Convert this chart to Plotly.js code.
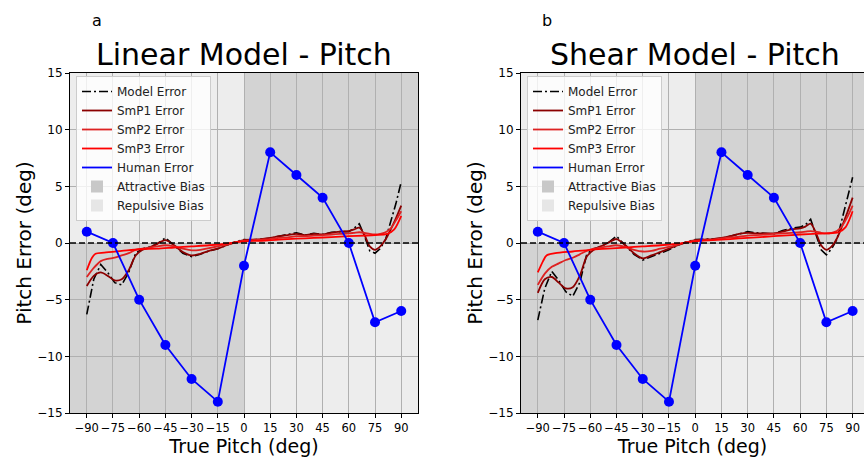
<!DOCTYPE html>
<html>
<head>
<meta charset="utf-8">
<script src="https://cdn.plot.ly/plotly-3.0.1.min.js"></script>
<style>html,body{margin:0;padding:0;background:#fff}#chart{width:864px;height:457px}</style>
</head>
<body>
<div id="chart"></div>
<script>
// ---- data ----
const curveX = [-90,-86,-82,-78,-74,-70,-66,-62,-58,-54,-50,-45,-40,-35,-30,-25,-20,-15,-10,-5,0,5,10,15,20,25,30,35,40,45,50,55,60,63,66,69,72,75,78,81,84,87,90];

const linModel = [-6.3,-3.2,-1.9,-2.6,-3.5,-3.7,-2.6,-0.9,-0.5,-0.35,-0.1,0.45,-0.2,-0.9,-1.2,-1.0,-0.7,-0.5,-0.2,0.1,0.3,0.25,0.35,0.4,0.6,0.75,0.9,0.7,0.85,0.75,0.95,1.0,1.0,1.3,1.7,0.6,-0.7,-0.9,-0.5,0.3,1.8,3.5,5.4];
const linSmP1 = [-3.8,-2.9,-2.6,-2.9,-3.3,-3.2,-2.4,-1.1,-0.6,-0.4,-0.1,0.25,-0.2,-0.8,-1.1,-0.95,-0.7,-0.5,-0.2,0.05,0.25,0.3,0.35,0.45,0.6,0.7,0.8,0.7,0.8,0.75,0.9,1.0,1.05,1.2,1.35,0.7,-0.3,-0.6,-0.3,0.3,1.2,2.2,3.3];
const linSmP2 = [-3.0,-2.2,-1.6,-1.4,-1.3,-1.1,-0.9,-0.6,-0.5,-0.4,-0.3,-0.2,-0.3,-0.5,-0.65,-0.6,-0.45,-0.3,-0.15,0.05,0.2,0.25,0.3,0.35,0.45,0.5,0.6,0.6,0.65,0.7,0.75,0.8,0.85,0.9,0.95,0.9,0.8,0.75,0.8,0.95,1.3,2.0,2.8];
const smp3X = [-90,-87,-85,-80,-70,-60,-50,-40,-30,-20,-10,0,10,20,30,40,50,60,70,75,82,86,90];
const linSmP3 = [-2.4,-1.3,-0.95,-0.85,-0.7,-0.55,-0.5,-0.4,-0.3,-0.2,-0.05,0.15,0.2,0.3,0.38,0.45,0.52,0.6,0.66,0.7,0.8,1.2,2.4];

const shModel = [-6.8,-4.0,-2.5,-3.3,-4.3,-4.7,-3.5,-1.0,-0.5,-0.3,0.0,0.6,-0.2,-1.0,-1.5,-1.2,-0.9,-0.6,-0.2,0.1,0.3,0.3,0.35,0.4,0.6,0.85,1.0,0.9,0.85,0.8,1.1,1.3,1.4,1.6,2.1,0.8,-0.6,-1.05,-0.5,0.3,2.2,4.0,5.8];
const shSmP1 = [-4.4,-3.2,-3.0,-3.5,-4.0,-3.9,-2.9,-1.2,-0.6,-0.3,0.0,0.35,-0.2,-0.9,-1.35,-1.1,-0.8,-0.5,-0.2,0.05,0.25,0.3,0.35,0.45,0.6,0.8,0.9,0.85,0.85,0.85,1.0,1.2,1.3,1.45,1.7,0.9,-0.2,-0.6,-0.3,0.4,1.5,2.7,4.0];
const shSmP2 = [-3.7,-2.7,-2.1,-1.8,-1.5,-1.3,-1.0,-0.7,-0.5,-0.4,-0.3,-0.2,-0.35,-0.6,-0.75,-0.7,-0.5,-0.35,-0.15,0.05,0.2,0.25,0.3,0.4,0.5,0.55,0.65,0.7,0.75,0.8,0.85,0.9,0.95,1.0,1.05,1.0,0.9,0.85,0.9,1.05,1.5,2.3,3.3];
const shSmP3 = [-2.6,-1.6,-1.1,-0.9,-0.75,-0.6,-0.5,-0.4,-0.3,-0.2,-0.05,0.15,0.25,0.35,0.45,0.55,0.65,0.75,0.82,0.85,0.95,1.4,2.8];

const humanX = [-90,-75,-60,-45,-30,-15,0,15,30,45,60,75,90];
const humanLin = [1,0,-5,-9,-12,-14,-2,8,6,4,0,-7,-6];
const humanShear = [1,0,-5,-9,-12,-14,-2,8,6,4,0,-7,-6];

const xTicks = [-90,-75,-60,-45,-30,-15,0,15,30,45,60,75,90];
const yTicks = [-15,-10,-5,0,5,10,15];
const titles = ['Linear Model - Pitch','Shear Model - Pitch'];
const panelLabels = ['a','b'];
const seriesNames = ['Model Error','SmP1 Error','SmP2 Error','SmP3 Error','Human Error','Attractive Bias','Repulsive Bias'];

// ---- styles ----
const FONT = 'DejaVu Sans';
const cModel = '#000000', cS1 = '#8b0000', cS2 = '#dd2222', cS3 = '#ff0000', cHuman = '#0000ff';
const cAttr = '#d3d3d3', cRep = '#ededed';
const biasSplit = 0;

function panel(xa, ya, legendId, model, s1, s2, s3, human) {
  const common = {xaxis: xa, yaxis: ya, legend: legendId, mode: 'lines', hoverinfo: 'skip'};
  return [
    Object.assign({}, common, {x: curveX, y: model, name: seriesNames[0], line: {color: cModel, width: 1.6, dash: '9px,3px,2px,3px'}}),
    Object.assign({}, common, {x: curveX, y: s1, name: seriesNames[1], line: {color: cS1, width: 1.8, shape: 'spline', smoothing: 0.8}}),
    Object.assign({}, common, {x: curveX, y: s2, name: seriesNames[2], line: {color: cS2, width: 1.8, shape: 'spline', smoothing: 0.8}}),
    Object.assign({}, common, {x: smp3X, y: s3, name: seriesNames[3], line: {color: cS3, width: 1.8, shape: 'spline', smoothing: 0.8}}),
    Object.assign({}, common, {x: [null], y: [null], name: seriesNames[4], line: {color: cHuman, width: 1.8}}),
    Object.assign({}, common, {x: humanX, y: human, name: seriesNames[4], mode: 'lines+markers', showlegend: false, line: {color: cHuman, width: 1.8}, marker: {color: cHuman, size: 10}}),
    {type: 'bar', xaxis: xa, yaxis: ya, legend: legendId, x: [null], y: [null], name: seriesNames[5], marker: {color: '#c8c8c8', line: {width: 0}}, hoverinfo: 'skip'},
    {type: 'bar', xaxis: xa, yaxis: ya, legend: legendId, x: [null], y: [null], name: seriesNames[6], marker: {color: '#e6e6e6', line: {width: 0}}, hoverinfo: 'skip'}
  ];
}

const data = [].concat(
  panel('x', 'y', 'legend', linModel, linSmP1, linSmP2, linSmP3, humanLin),
  panel('x2', 'y2', 'legend2', shModel, shSmP1, shSmP2, shSmP3, humanShear)
);

const W = 864, H = 457;
const dom1 = [70 / W, 418 / W], dom2 = [521 / W, 1];
const ydom = [1 - 413 / H, 1 - 73 / H];

function xax(domain, range, anchor) {
  return {domain: domain, range: range, anchor: anchor, tickvals: xTicks, ticks: 'outside', ticklen: 4, tickcolor: '#000', tickangle: 0,
    tickfont: {family: FONT, size: 11.5, color: '#000'}, showgrid: true, gridcolor: '#b0b0b0', gridwidth: 1,
    showline: true, linecolor: '#000', linewidth: 1, mirror: true, zeroline: false,
    title: {text: 'True Pitch (deg)', font: {family: FONT, size: 19, color: '#000'}, standoff: 9}};
}
function yax(anchor, mirror) {
  return {domain: ydom, range: [-15, 15], anchor: anchor, tickvals: yTicks, ticks: 'outside', ticklen: 4, tickcolor: '#000',
    tickfont: {family: FONT, size: 12, color: '#000'}, showgrid: true, gridcolor: '#b0b0b0', gridwidth: 1,
    showline: true, linecolor: '#000', linewidth: 1, mirror: mirror, zeroline: false,
    title: {text: 'Pitch Error (deg)', font: {family: FONT, size: 20, color: '#000'}, standoff: 0}};
}

function quadShapes(xr, yr) {
  const big = 1000;
  const r = (x0, x1, y0, y1, c) => ({type: 'rect', xref: xr, yref: yr, x0: x0, x1: x1, y0: y0, y1: y1, fillcolor: c, line: {width: 0}, layer: 'below'});
  return [
    r(-big, biasSplit, biasSplit, big, cRep),
    r(biasSplit, big, biasSplit, big, cAttr),
    r(-big, biasSplit, -big, biasSplit, cAttr),
    r(biasSplit, big, -big, biasSplit, cRep),
    {type: 'line', xref: xr + ' domain', yref: yr, x0: 0, x1: 1, y0: biasSplit, y1: biasSplit, line: {color: '#000', width: 1.6, dash: '6px,3px'}, layer: 'above'}
  ];
}

function legendCfg(xpx) {
  return {x: xpx / W, y: 1 - 76 / H, xanchor: 'left', yanchor: 'top', bgcolor: 'rgba(255,255,255,0.8)', bordercolor: '#cccccc', borderwidth: 1,
    font: {family: FONT, size: 12, color: '#222'}, itemwidth: 30, tracegroupgap: 0, traceorder: 'normal'};
}

const layout = {
  width: W, height: H, margin: {l: 0, r: 0, t: 0, b: 0}, paper_bgcolor: '#fff', plot_bgcolor: 'rgba(0,0,0,0)',
  font: {family: FONT},
  xaxis: xax(dom1, [-99.6, 99.6], 'y'),
  yaxis: yax('x', true),
  xaxis2: xax(dom2, [-99.6, 96.5], 'y2'),
  yaxis2: yax('x2', false),
  legend: legendCfg(76),
  legend2: legendCfg(527),
  shapes: [].concat(quadShapes('x', 'y'), quadShapes('x2', 'y2')),
  annotations: [
    {text: titles[0], xref: 'paper', yref: 'paper', x: 244 / W, y: 1 - 55 / H, xanchor: 'center', yanchor: 'middle', showarrow: false, font: {family: FONT, size: 30, color: '#000'}},
    {text: titles[1], xref: 'paper', yref: 'paper', x: 695 / W, y: 1 - 55 / H, xanchor: 'center', yanchor: 'middle', showarrow: false, font: {family: FONT, size: 30, color: '#000'}},
    {text: panelLabels[0], xref: 'paper', yref: 'paper', x: 97 / W, y: 1 - 20 / H, xanchor: 'center', yanchor: 'middle', showarrow: false, font: {family: FONT, size: 16, color: '#000'}},
    {text: panelLabels[1], xref: 'paper', yref: 'paper', x: 547 / W, y: 1 - 20 / H, xanchor: 'center', yanchor: 'middle', showarrow: false, font: {family: FONT, size: 16, color: '#000'}}
  ],
  showlegend: true
};

Plotly.newPlot('chart', data, layout, {staticPlot: true, displayModeBar: false});
</script>
</body>
</html>
